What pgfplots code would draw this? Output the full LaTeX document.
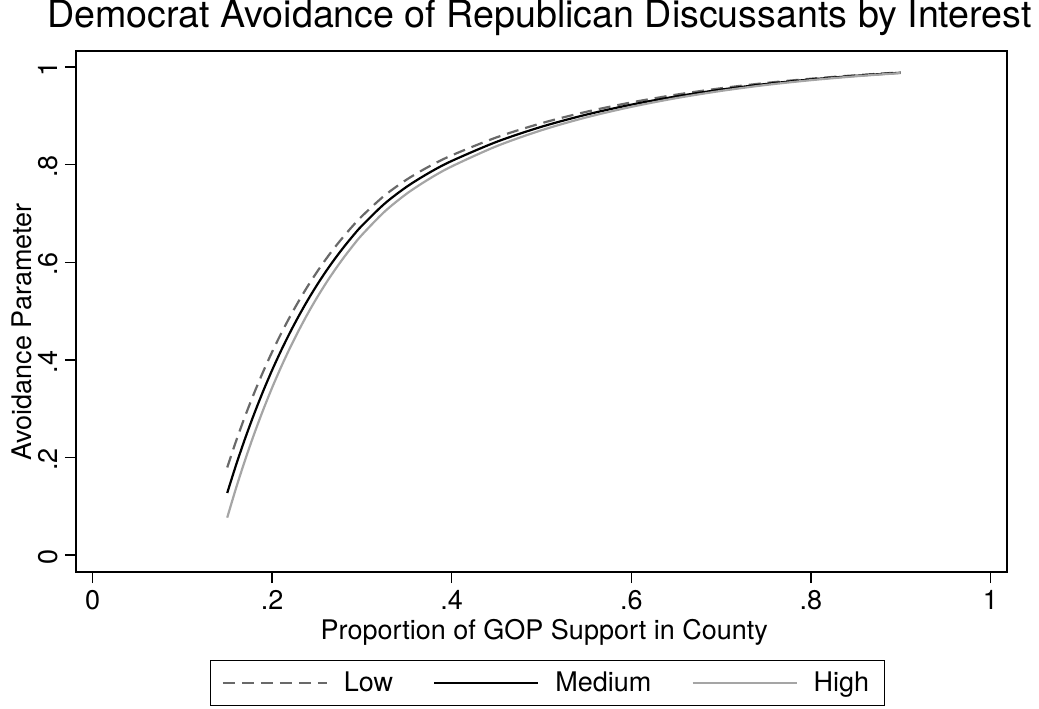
\documentclass[border=0pt]{standalone}
\usepackage{pgfplots}
\pgfplotsset{compat=1.18}
\usepackage{pgfplotstable}
\usepackage{fontspec}
\setmainfont{TeX Gyre Heros}
\definecolor{lowc}{RGB}{105,105,105}
\definecolor{highc}{RGB}{165,165,165}
\pgfplotstableread{
x low med high
0.15 0.1794 0.1270 0.0764
0.16 0.2341 0.1852 0.1379
0.17 0.2848 0.2391 0.1950
0.18 0.3318 0.2891 0.2479
0.19 0.3755 0.3356 0.2971
0.20 0.4161 0.3788 0.3428
0.21 0.4538 0.4189 0.3852
0.22 0.4888 0.4562 0.4247
0.23 0.5214 0.4909 0.4614
0.24 0.5519 0.5233 0.4957
0.25 0.5802 0.5534 0.5275
0.26 0.6065 0.5814 0.5571
0.27 0.6309 0.6073 0.5845
0.28 0.6536 0.6315 0.6101
0.29 0.6748 0.6540 0.6339
0.30 0.6944 0.6749 0.6560
0.325 0.7364 0.7196 0.7033
0.35 0.7696 0.7549 0.7407
0.375 0.7965 0.7835 0.7709
0.40 0.8191 0.8076 0.7964
0.45 0.8560 0.8468 0.8379
0.50 0.8850 0.8777 0.8706
0.55 0.9084 0.9026 0.8970
0.60 0.9276 0.9230 0.9185
0.65 0.9435 0.9399 0.9364
0.70 0.9567 0.9539 0.9512
0.75 0.9675 0.9654 0.9634
0.80 0.9762 0.9747 0.9732
0.85 0.9833 0.9822 0.9812
0.90 0.9892 0.9885 0.9878
}\datatable
\begin{document}
\begin{tikzpicture}
\useasboundingbox (-38pt,-68pt) rectangle (481.5pt,286pt);
\begin{axis}[
  at={(0,0)}, anchor=south west,
  scale only axis, width=465.5pt, height=260.5pt,
  xmin=-0.0184, xmax=1.0184, ymin=-0.035, ymax=1.033,
  axis line style={line width=0.9pt},
  tick align=outside, major tick length=5.5pt,
  tick style={black, line width=0.7pt},
  tick pos=left,
  xtick={0,0.2,0.4,0.6,0.8,1}, xticklabels={0,.2,.4,.6,.8,1},
  ytick={0,0.2,0.4,0.6,0.8,1}, yticklabels={0,.2,.4,.6,.8,1},
  ticklabel style={font=\fontsize{13.5}{16}\selectfont},
  yticklabel style={rotate=90, anchor=south, xshift=-1pt},
  title={Democrat Avoidance of Republican Discussants by Interest},
  title style={at={(axis description cs:0.498,1.023)}, anchor=base, font=\fontsize{18.8}{22}\selectfont},
  xlabel={Proportion of GOP Support in County},
  xlabel style={at={(axis description cs:0.503,-0.1286)}, anchor=base, font=\fontsize{13.5}{16}\selectfont},
  ylabel={Avoidance Parameter},
  ylabel style={at={(axis description cs:-0.0473,0.4607)}, anchor=base, font=\fontsize{13.5}{16}\selectfont},
  legend columns=3,
  legend image code/.code={\draw[#1] (0pt,0pt) -- (52pt,0pt);},
  legend style={at={(0.5064,-0.169)}, anchor=north, draw=black, line width=0.5pt,
    font=\fontsize{13.5}{16}\selectfont, inner xsep=5.5pt, inner ysep=3.5pt,
    /tikz/every odd column/.append style={column sep=6pt},
    /tikz/every even column/.append style={column sep=18pt}},
]
\addplot[lowc, line width=1.1pt, dash pattern=on 6pt off 3.5pt, smooth] table[x=x, y=low] {\datatable};
\addlegendentry{Low}
\addplot[black, line width=1.1pt, smooth] table[x=x, y=med] {\datatable};
\addlegendentry{Medium}
\addplot[highc, line width=1.1pt, smooth] table[x=x, y=high] {\datatable};
\addlegendentry{High}
\end{axis}
\end{tikzpicture}
\end{document}
